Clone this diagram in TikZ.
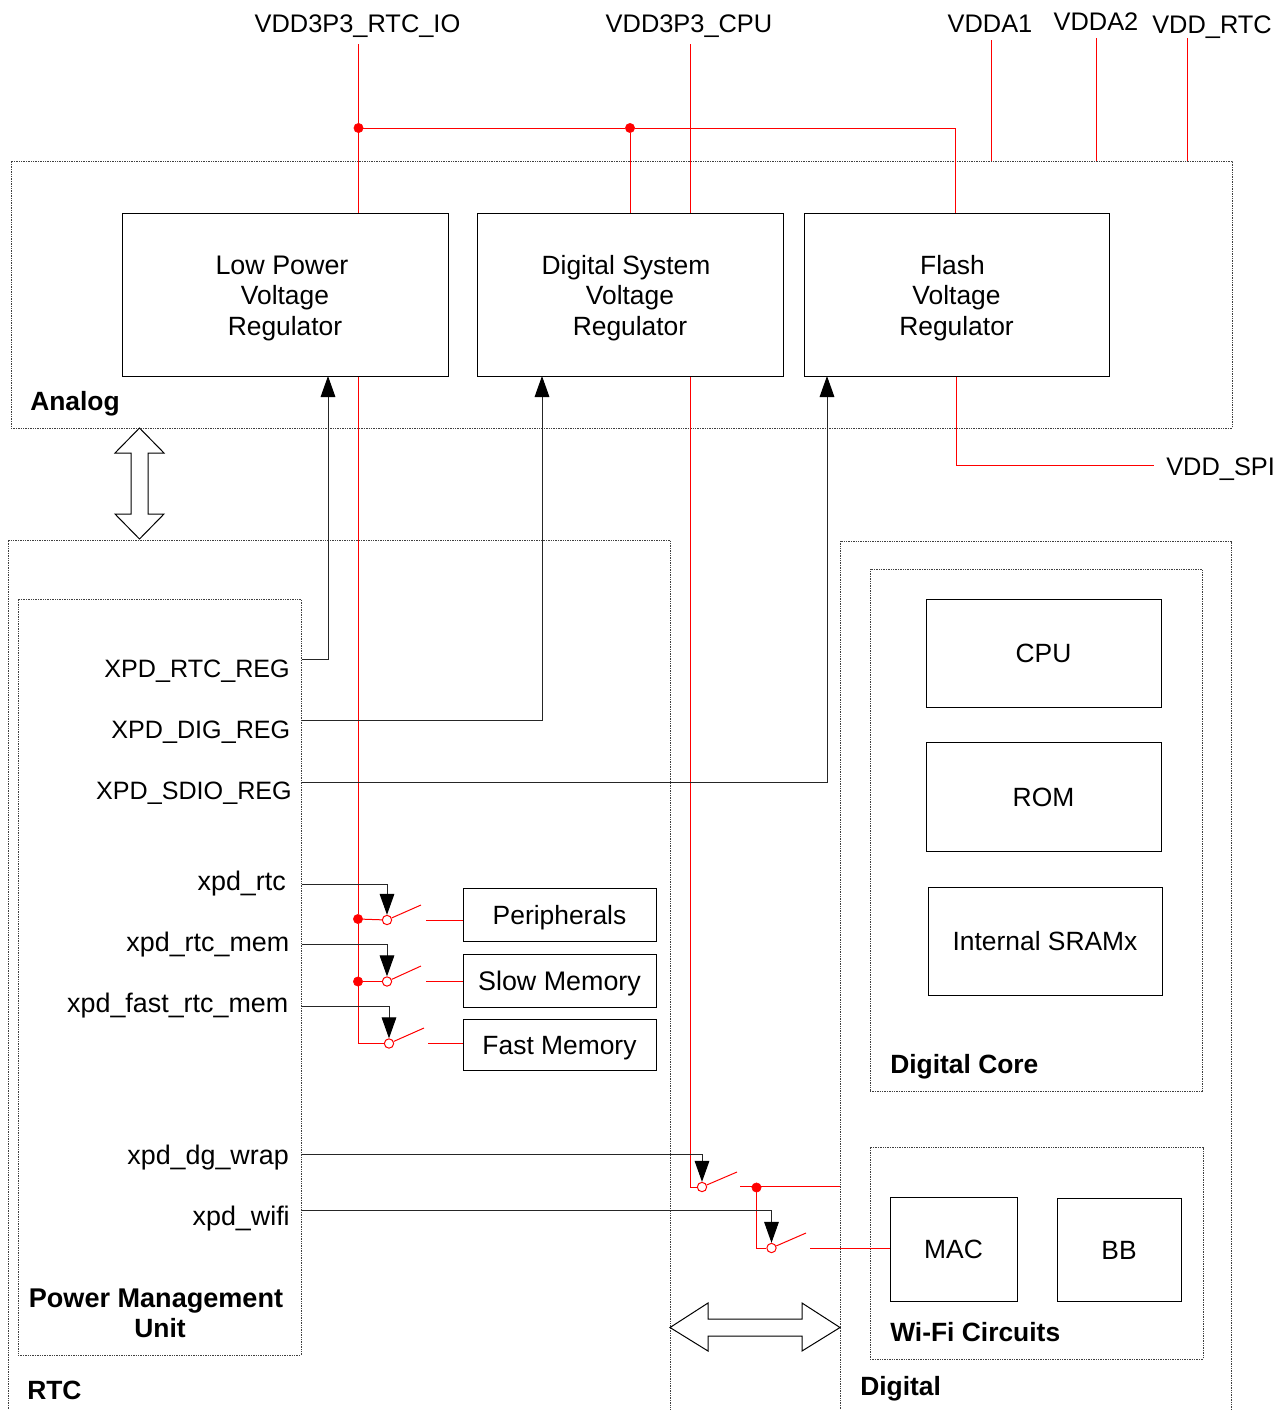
\documentclass[tikz,border=0pt]{standalone}
\usepackage{fontspec}
\setmainfont{Liberation Sans}
\usetikzlibrary{arrows.meta}
\definecolor{pwr}{HTML}{FF0000}
\newcommand{\fnt}{\fontsize{19.8}{22.9}\selectfont}
\newcommand{\fntc}{\fontsize{19.05}{22.9}\selectfont}
\newcommand{\fntx}{\fontsize{18.85}{22.9}\selectfont}
\newcommand{\fntl}{\fontsize{20.15}{22.9}\selectfont}
\newcommand{\regstrut}{\rule{0pt}{19.3pt}}
\tikzset{
  txt/.style={inner sep=0pt,font=\fnt},
  lab/.style={txt,anchor=base},
  labr/.style={txt,anchor=base east},
  labl/.style={txt,anchor=base west},
  capf/.style={font=\fntc},
  capx/.style={font=\fntx},
  lowf/.style={font=\fntl},
  bold/.style={font=\fnt\bfseries},
  boldw/.style={font=\fontsize{20.3}{22.9}\selectfont\bfseries},
  region/.style={draw=black!75,line width=.75pt,dash pattern=on 1pt off .8pt},
  boxs/.style={draw=black,line width=.75pt,txt,text height=14.8pt,text depth=0pt},
  boxt/.style={draw=black,line width=.75pt,txt,text height=14.6pt,text depth=0pt},
  regbox/.style={draw=black,line width=.75pt,txt,align=center},
  rail/.style={draw=pwr,line width=.75pt},
  ctrl/.style={draw=black!85,line width=.75pt},
  tip/.style={ctrl,-{Triangle[length=15.75pt,width=11pt,color=black]}},
  jct/.style={circle,fill=pwr,draw=pwr,inner sep=0pt,minimum size=7pt},
  swc/.style={circle,fill=white,draw=pwr,line width=.75pt,inner sep=0pt,minimum size=7pt},
  fat/.style={draw=black,line width=.75pt,fill=white,line join=miter},
}
\newcommand{\boxat}[6]{\node[#1,minimum width={(#4-#3)*0.75pt},minimum height={(#6-#5)*0.75pt}] (#2) at ({(#3+#4)/2},{(#5+#6)/2})}
\begin{document}
\begin{tikzpicture}[x=0.75pt,y=-0.75pt]
\useasboundingbox (0,0) rectangle (1287,1410);
% regions
\boxat{region}{analog}{11}{1232}{161}{428} {};
\boxat{region}{pmu}{18}{301}{599}{1355} {};
\boxat{region}{dcore}{870}{1202}{569}{1091} {};
\boxat{region}{wifi}{870}{1203}{1147}{1359} {};
\draw[region] (8,1411) coordinate (rtcbl) |- (670,540) coordinate (rtctr) -- (670,1411);
\draw[region] (840,1411) |- (1231,541) coordinate (digtr) -- (1231,1411);
% boxes
\boxat{regbox}{lp}{122}{448}{213}{376} {\fntl\regstrut Low Power\hspace*{4.5pt}\\\fnt Voltage\\Regulator};
\boxat{regbox}{ds}{477}{783}{213}{376} {\regstrut Digital System\hspace*{6pt}\\Voltage\\Regulator};
\boxat{regbox}{fl}{804}{1109}{213}{376} {\regstrut Flash\hspace*{6pt}\\Voltage\\Regulator};
\boxat{boxt}{cpu}{926}{1161}{599}{707} {CPU};
\boxat{boxs}{rom}{926}{1161}{742}{851} {ROM};
\boxat{boxt}{sram}{928}{1162}{887}{995} {Internal SRAMx};
\boxat{boxs}{mac}{890}{1017}{1197}{1301} {MAC};
\boxat{boxt}{bb}{1057}{1181}{1198}{1301} {BB};
\boxat{boxs}{per}{463}{656}{888}{941} {Peripherals};
\boxat{boxs,lowf}{slow}{463}{656}{954}{1007} {Slow Memory};
\boxat{boxs}{fast}{463}{656}{1019}{1070} {Fast Memory};
% free ends and junctions
\coordinate (v1) at (358,44);
\coordinate (v2) at (690,44);
\coordinate (v3) at (991,40);
\coordinate (v4) at (1096,38);
\coordinate (v5) at (1187,38);
\node[jct] (j1) at (358.5,128) {};
\node[jct] (j2) at (630,128) {};
\node[jct] (j3) at (358,919) {};
\node[jct] (j4) at (358,981.5) {};
\node[jct] (j5) at (756.5,1187.5) {};
\node[swc] (s1) at (387,920) {};
\node[swc] (s2) at (387,981.5) {};
\node[swc] (s3) at (389,1043.5) {};
\node[swc] (s4) at (702,1187) {};
\node[swc] (s5) at (771.5,1248) {};
\coordinate (b1) at (421,905);
\coordinate (b2) at (421,966);
\coordinate (b3) at (424,1028);
\coordinate (b4) at (737,1172);
\coordinate (b5) at (806,1233);
\coordinate (t1) at (426,920);
\coordinate (t2) at (426,981.5);
\coordinate (t3) at (428,1043.5);
\coordinate (t4) at (740,1186.5);
\coordinate (t5) at (810,1248);
\coordinate (k1) at (955,128);
\coordinate (k2) at (358,1043.5);
\coordinate (k3) at (690,1187);
\coordinate (k4) at (756.5,1248);
\coordinate (k5) at (956,465);
\coordinate (k6) at (1154,465);
\coordinate (k7) at (840,1186.5);
% power rails
\draw[rail] (v1) -- (v1 |- lp.north);
\draw[rail] (v2) -- (v2 |- ds.north);
\draw[rail] (v3) -- (v3 |- analog.north);
\draw[rail] (v4) -- (v4 |- analog.north);
\draw[rail] (v5) -- (v5 |- analog.north);
\draw[rail] (j1) -- (j2) -- (k1) -- (k1 |- fl.north);
\draw[rail] (j2) -- (j2 |- ds.north);
\draw[rail] (v1 |- lp.south) -- (j3) -- (j4) -- (k2) -- (s3);
\draw[rail] (j3) -- (s1);
\draw[rail] (j4) -- (s2);
\draw[rail] (v2 |- ds.south) -- (k3) -- (s4);
\draw[rail] (j5) -- (k4) -- (s5);
\draw[rail] (t4) -- (k7);
\draw[rail] (k5 |- fl.south) -- (k5) -- (k6);
\draw[rail] (s1) -- (b1);
\draw[rail] (s2) -- (b2);
\draw[rail] (s3) -- (b3);
\draw[rail] (s4) -- (b4);
\draw[rail] (s5) -- (b5);
\draw[rail] (t1) -- (t1 -| per.west);
\draw[rail] (t2) -- (t2 -| slow.west);
\draw[rail] (t3) -- (t3 -| fast.west);
\draw[rail] (t5) -- (t5 -| mac.west);
% control lines
\draw[tip] (pmu.east |- 0,659) -| (328,376);
\draw[tip] (pmu.east |- 0,720) -| (542,376);
\draw[tip] (pmu.east |- 0,782) -| (827,376);
\draw[tip] (pmu.east |- 0,884) -| (s1);
\draw[tip] (pmu.east |- 0,944) -| (s2);
\draw[tip] (pmu.east |- 0,1006) -| (s3);
\draw[tip] (pmu.east |- 0,1154) -| (s4);
\draw[tip] (pmu.east |- 0,1210) -| (s5);
% bus arrows
\draw[fat] (139.5,428) -- (164,453) -- (148,453) -- (148,514) -- (164,514) -- (139.5,539) -- (115,514) -- (131,514) -- (131,453) -- (115,453) -- cycle;
\draw[fat] (670,1327.5) -- (708,1303) -- (708,1319) -- (802,1319) -- (802,1303) -- (840,1327.5) -- (802,1351) -- (802,1336) -- (708,1336) -- (708,1351) -- cycle;
% labels
\node[lab,capf] (lrtcio) at (357.5,32) {VDD3P3\_RTC\_IO};
\node[lab,capf] (lcpu) at (689,32) {VDD3P3\_CPU};
\node[lab,capf] (la1) at (990,32) {VDDA1};
\node[lab,capf] (la2) at (1096,30) {VDDA2};
\node[lab,capf] (lrtc) at (1212,33) {VDD\_RTC};
\node[labl,capf] (lspi) at (1166,475) {VDD\_SPI};
\node[labr,capx] (x1) at (290,677) {XPD\_RTC\_REG};
\node[labr,capx] (x2) at (290.5,738) {XPD\_DIG\_REG};
\node[labr,capx] (x3) at (292,799) {XPD\_SDIO\_REG};
\node[labr,lowf] (x4) at (286,890) {xpd\_rtc};
\node[labr,lowf] (x5) at (289.5,951) {xpd\_rtc\_mem};
\node[labr,lowf] (x6) at (288.5,1012) {xpd\_fast\_rtc\_mem};
\node[labr,lowf] (x7) at (289,1164) {xpd\_dg\_wrap};
\node[labr,lowf] (x8) at (290,1225) {xpd\_wifi};
\node[labl,bold] (tan) at (30,410) {Analog};
\node[lab,boldw] (tp1) at (156,1307) {Power Management};
\node[lab,bold] (tp2) at (160,1337) {Unit};
\node[labl,bold] (trtc) at (27,1399) {RTC};
\node[labl,bold] (tdc) at (890,1073) {Digital Core};
\node[labl,bold] (twf) at (890,1341) {Wi-Fi Circuits};
\node[labl,bold] (tdg) at (860,1395) {Digital};
\end{tikzpicture}
\end{document}
